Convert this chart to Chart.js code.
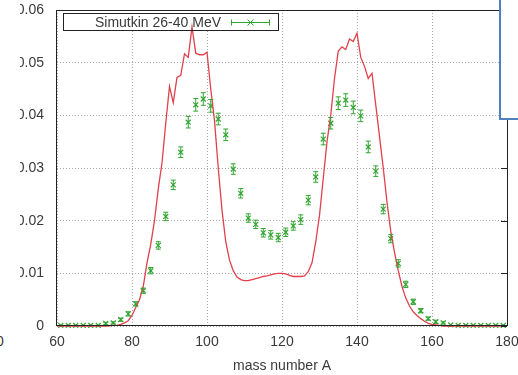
<!DOCTYPE html>
<html>
<head>
<meta charset="utf-8">
<script src="https://cdn.jsdelivr.net/npm/chart.js@4/dist/chart.umd.min.js"></script>
<style>
  html, body { margin: 0; padding: 0; background: #fff; overflow: hidden; }
  body { width: 518px; height: 375px; position: relative; font-family: "Liberation Sans", Arial, sans-serif; }
  #myChart { position: absolute; left: 20px; top: 0; }
  #blueBox { position: absolute; left: 499px; top: -4px; width: 30px; height: 120px; background: #fff; border: 2px solid #4f81bd; }
  #stray { position: absolute; left: -4px; top: 333px; font-size: 14px; line-height: 16px; color: #3a3a3a; }
</style>
</head>
<body>
<canvas id="myChart" width="498" height="375"></canvas>
<div id="blueBox"></div>
<div id="stray">0</div>
<script>
// theory curve, one value per mass number A = 60..180
const massA = [];
for (let a = 60; a <= 180; a++) massA.push(a);
const theoryValues = [
    0, 0, 0, 0, 0, 0, 0, 0, 0, 0,
    0, 0, 0, 0, 0.00005, 0.0001, 0.0001, 0.0003, 0.0006, 0.001,
    0.002, 0.0035, 0.005, 0.0075, 0.012, 0.0155, 0.020, 0.026, 0.031, 0.0385,
    0.0455, 0.0424, 0.0472, 0.0476, 0.0517, 0.051, 0.0568, 0.0518, 0.0515, 0.0515,
    0.052, 0.045, 0.039, 0.030, 0.022, 0.016, 0.0125, 0.0105, 0.0093, 0.0088,
    0.0086, 0.0086, 0.0088, 0.009, 0.0092, 0.0094, 0.0095, 0.0097, 0.0099, 0.01,
    0.01, 0.0099, 0.0096, 0.0094, 0.0094, 0.0094, 0.0095, 0.0103, 0.012, 0.016,
    0.021, 0.028, 0.035, 0.040, 0.047, 0.0522, 0.053, 0.0525, 0.0545, 0.054,
    0.0556, 0.051, 0.0493, 0.047, 0.048, 0.042, 0.036, 0.030, 0.0235, 0.018,
    0.014, 0.0105, 0.0075, 0.0053, 0.0038, 0.0027, 0.002, 0.0014, 0.0009, 0.0005,
    0.0003, 0.0002, 0.0001, 0, 0, 0, 0, 0, 0, 0,
    0, 0, 0, 0, 0, 0, 0, 0, 0, 0,
    0
];

// Simutkin points at odd A = 61..179
const simA = [];
for (let a = 61; a <= 179; a += 2) simA.push(a);
const simValues = [
    0.0001, 0.0001, 0.0001, 0.0001, 0.0001, 0.0001, 0.0005, 0.0006, 0.0012, 0.0023,
    0.0042, 0.0067, 0.0105, 0.0153, 0.0208, 0.0268, 0.033, 0.0387, 0.042, 0.0431,
    0.0418, 0.0393, 0.0363, 0.0298, 0.0252, 0.0205, 0.0193, 0.0177, 0.0173, 0.0168,
    0.0178, 0.019, 0.0202, 0.0239, 0.0283, 0.0355, 0.0385, 0.0423, 0.0429, 0.0415,
    0.0399, 0.034, 0.0294, 0.0222, 0.0166, 0.0119, 0.0079, 0.0046, 0.0029, 0.0014,
    0.0008, 0.0006, 0.0002, 0.0001, 0.0001, 0.0001, 0.0001, 0.0001, 0.0001, 0.0001
];
const simErrors = [
    0.0001, 0.0001, 0.0001, 0.0001, 0.0001, 0.0001, 0.0002, 0.0002, 0.0003, 0.0004,
    0.0004, 0.0005, 0.0006, 0.0007, 0.0008, 0.0009, 0.001, 0.0011, 0.0012, 0.0012,
    0.0012, 0.0011, 0.0011, 0.001, 0.0009, 0.0008, 0.0008, 0.0008, 0.0008, 0.0008,
    0.0008, 0.0008, 0.0009, 0.0009, 0.001, 0.0011, 0.0011, 0.0012, 0.0012, 0.0012,
    0.0011, 0.0011, 0.001, 0.0009, 0.0008, 0.0007, 0.0006, 0.0005, 0.0004, 0.0003,
    0.0003, 0.0002, 0.0001, 0.0001, 0.0001, 0.0001, 0.0001, 0.0001, 0.0001, 0.0001
];

const xTicks = [60, 80, 100, 120, 140, 160, 180];
const yTicks = [0, 0.01, 0.02, 0.03, 0.04, 0.05, 0.06];
const simLabel = "Simutkin 26-40 MeV";
const xTitle = "mass number A";

const red = '#e0414c';
const green = '#2fa52f';
const textColor = '#3a3a3a';
const font = { family: '"Liberation Sans", Arial, sans-serif', size: 14 };

// error bars for the Simutkin points
const errorBars = {
    id: 'errorBars',
    afterDatasetsDraw(chart) {
        const meta = chart.getDatasetMeta(1);
        const yScale = chart.scales.y;
        const ctx = chart.ctx;
        ctx.save();
        ctx.strokeStyle = green;
        ctx.lineWidth = 1;
        meta.data.forEach((pt, i) => {
            const top = yScale.getPixelForValue(simValues[i] + simErrors[i]);
            const bot = yScale.getPixelForValue(simValues[i] - simErrors[i]);
            if (bot - top < 2) return;
            ctx.beginPath();
            ctx.moveTo(pt.x, top); ctx.lineTo(pt.x, bot);
            ctx.moveTo(pt.x - 2.5, top); ctx.lineTo(pt.x + 2.5, top);
            ctx.moveTo(pt.x - 2.5, bot); ctx.lineTo(pt.x + 2.5, bot);
            ctx.stroke();
        });
        ctx.restore();
    }
};

// gnuplot style frame, key box and right-hand ticks
const frameAndKey = {
    id: 'frameAndKey',
    beforeDatasetsDraw(chart) {
        const ctx = chart.ctx;
        ctx.save();
        ctx.fillStyle = '#fff';
        ctx.fillRect(43, 13, 215, 17);
        ctx.restore();
    },
    afterDraw(chart) {
        const ctx = chart.ctx;
        const a = chart.chartArea;
        ctx.save();
        ctx.strokeStyle = '#222';
        ctx.lineWidth = 1;
        ctx.strokeRect(Math.round(a.left) - 0.5, Math.round(a.top) + 0.5,
            Math.round(a.right - a.left) + 1, Math.round(a.bottom - a.top) - 1);
        // inward ticks on the right border
        ctx.beginPath();
        yTicks.forEach(v => {
            const y = Math.round(chart.scales.y.getPixelForValue(v)) + 0.5;
            ctx.moveTo(a.right - 6, y); ctx.lineTo(a.right, y);
        });
        ctx.stroke();

        // key
        ctx.strokeRect(43.5, 13.5, 215, 17);
        ctx.fillStyle = textColor;
        ctx.font = '14px "Liberation Sans", Arial, sans-serif';
        ctx.textAlign = 'right';
        ctx.textBaseline = 'alphabetic';
        ctx.fillText(chart.data.datasets[1].label, 201, 26.5);
        ctx.strokeStyle = green;
        ctx.beginPath();
        ctx.moveTo(211, 22.5); ctx.lineTo(250, 22.5);
        ctx.moveTo(211.5, 19.5); ctx.lineTo(211.5, 25.5);
        ctx.moveTo(249.5, 19.5); ctx.lineTo(249.5, 25.5);
        ctx.moveTo(227.5, 19.5); ctx.lineTo(233.5, 25.5);
        ctx.moveTo(233.5, 19.5); ctx.lineTo(227.5, 25.5);
        ctx.stroke();
        ctx.restore();
    }
};

new Chart("myChart", {
    type: "scatter",
    data: {
        datasets: [{
            label: "theory",
            data: massA.map((a, i) => ({ x: a, y: theoryValues[i] })),
            showLine: true,
            borderColor: red,
            borderWidth: 1.3,
            pointRadius: 0,
            tension: 0,
            clip: false,
        }, {
            label: simLabel,
            data: simA.map((a, i) => ({ x: a, y: simValues[i] })),
            showLine: false,
            pointStyle: 'crossRot',
            pointRadius: 3.5,
            borderColor: green,
            backgroundColor: green,
            borderWidth: 1.2,
            clip: false,
        }],
    },
    options: {
        responsive: false,
        animation: false,
        devicePixelRatio: 1,
        layout: { padding: 0 },
        plugins: {
            legend: { display: false },
            tooltip: { enabled: false },
        },
        scales: {
            x: {
                type: 'linear',
                min: 60,
                max: 180,
                afterBuildTicks: scale => { scale.ticks = xTicks.map(v => ({ value: v })); },
                afterFit: scale => {
                    scale.height = 49;
                    scale.paddingLeft = 0;
                    scale.paddingRight = 11;
                },
                ticks: { font: font, color: textColor, padding: 8, maxRotation: 0 },
                grid: { color: '#a8a8a8', lineWidth: 1, drawTicks: false },
                border: { display: false, dash: [1, 2] },
                title: { display: true, text: xTitle, font: font, color: textColor, padding: { top: 0, bottom: 0 } },
            },
            y: {
                min: 0,
                max: 0.06,
                afterBuildTicks: scale => { scale.ticks = yTicks.map(v => ({ value: v })); },
                afterFit: scale => {
                    scale.width = 37;
                    scale.paddingTop = 10;
                    scale.paddingBottom = 0;
                },
                ticks: {
                    font: font,
                    color: textColor,
                    padding: 13,
                    callback: v => v === 0 ? '0' : v.toFixed(2),
                },
                grid: { color: '#a8a8a8', lineWidth: 1, drawTicks: false },
                border: { display: false, dash: [1, 2] },
            },
        },
    },
    plugins: [errorBars, frameAndKey],
});
</script>
</body>
</html>
